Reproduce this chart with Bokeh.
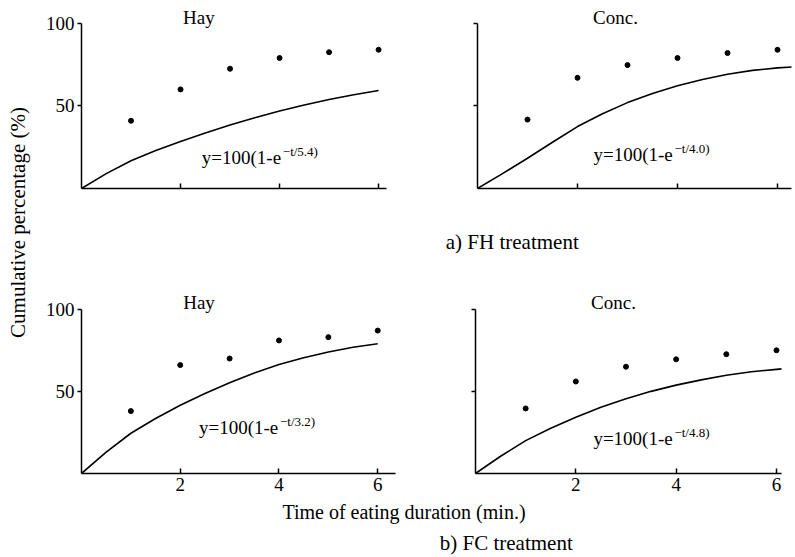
from math import pi
from bokeh.plotting import figure
from bokeh.layouts import row, column
from bokeh.models import Range1d, FixedTicker, Label
from bokeh.embed import file_html
from bokeh.resources import INLINE

FONT = "Liberation Serif"

# ---- data ----
x_obs = [1, 2, 3, 4, 5, 6]
fh_hay_obs = [41, 60, 72.5, 79, 82.5, 84]
fh_conc_obs = [41.7, 67, 74.7, 79, 82, 84]
fc_hay_obs = [38, 66, 70, 81, 83, 87]
fc_conc_obs = [39.6, 56, 65, 69.5, 72.6, 75]

x_fit = [0, 0.5, 1, 1.5, 2, 2.5, 3, 3.5, 4, 4.5, 5, 5.5, 6]
x_fit_ext = [0, 0.5, 1, 1.5, 2, 2.5, 3, 3.5, 4, 4.5, 5, 5.5, 6, 6.3]
fh_hay_fit = [0, 9, 16.8, 23, 28.5, 33.6, 38.4, 42.8, 46.9, 50.6, 53.9, 56.8, 59.3]
fh_conc_fit = [0, 9, 18.3, 28, 37.5, 45.3, 52, 57.5, 62.2, 66, 69.2, 71.5, 73, 73.6]
fc_hay_fit = [0, 13, 24.5, 33.5, 41.5, 48.7, 55.2, 61.2, 66.3, 70.5, 74, 76.8, 79]
fc_conc_fit = [0, 10.5, 20, 27.5, 34.2, 40.3, 45.5, 50, 53.8, 57, 59.8, 61.9, 63.4, 64.2]

x_ticks = [2, 4, 6]
y_ticks = [50, 100]

titles = ["Hay", "Conc.", "Hay", "Conc."]
eq_main = "y=100(1-e"
eq_sups = ["\u2212t/5.4)", "\u2212t/4.0)", "\u2212t/3.2)", "\u2212t/4.8)"]
cap_a = "a)  FH  treatment"
cap_b = "b)  FC  treatment"
x_title = "Time of eating duration  (min.)"
y_title = "Cumulative percentage (%)"

Y_END = 112


def panel(w, h, bl, br, bt, bb, xend, title, tpos, sup, epos, xf, yf, yo,
          ylabels, xlabels):
    p = figure(width=w, height=h, x_range=Range1d(0, xend), y_range=Range1d(0, Y_END),
               output_backend="svg", toolbar_location=None,
               min_border_left=bl, min_border_right=br,
               min_border_top=bt, min_border_bottom=bb)
    p.outline_line_color = None
    p.background_fill_color = "white"
    p.border_fill_color = "white"
    p.xgrid.visible = False
    p.ygrid.visible = False

    xa = p.xaxis[0]
    xa.ticker = FixedTicker(ticks=x_ticks)
    xa.minor_tick_line_color = None
    xa.major_tick_in = 5
    xa.major_tick_out = 0
    xa.axis_line_width = 1.5
    xa.major_tick_line_width = 1.5
    xa.major_label_text_font = FONT
    xa.major_label_text_font_size = "19px"
    xa.major_label_text_color = "black"
    xa.major_label_standoff = 4
    if not xlabels:
        xa.major_label_overrides = {t: "" for t in x_ticks}

    ya = p.yaxis[0]
    ya.ticker = FixedTicker(ticks=y_ticks)
    ya.bounds = (0, 100)
    ya.minor_tick_line_color = None
    ya.major_tick_in = 0
    ya.major_tick_out = 4
    ya.axis_line_width = 1.5
    ya.major_tick_line_width = 1.5
    ya.major_label_text_font = FONT
    ya.major_label_text_font_size = "19px"
    ya.major_label_text_color = "black"
    ya.major_label_standoff = 3
    if not ylabels:
        ya.major_label_overrides = {t: "" for t in y_ticks}

    p.line(xf, yf, line_color="black", line_width=1.6)
    p.scatter(x_obs, yo, size=5, color="black")

    p.add_layout(Label(x=tpos[0], y=tpos[1], text=title, text_font=FONT,
                       text_font_size="19px", text_align="center",
                       text_baseline="middle", text_color="black"))
    p.add_layout(Label(x=epos[0], y=epos[1], text=eq_main, text_font=FONT,
                       text_font_size="19px", text_align="left",
                       text_baseline="middle", text_color="black"))
    p.add_layout(Label(x=epos[0], y=epos[1], x_offset=81, y_offset=6, text=sup,
                       text_font=FONT, text_font_size="13px", text_align="left",
                       text_baseline="middle", text_color="black"))
    return p


def blank(w, h):
    p = figure(width=w, height=h, x_range=Range1d(0, w), y_range=Range1d(0, h),
               output_backend="svg", toolbar_location=None, min_border=0,
               x_axis_location=None, y_axis_location=None)
    p.outline_line_color = None
    p.border_fill_color = "white"
    p.background_fill_color = "white"
    p.xgrid.visible = False
    p.ygrid.visible = False
    return p


tl = panel(386, 215, 38, 42, 1, 27, 6.16, titles[0], (2.37, 103.6), eq_sups[0],
           (2.43, 18.6), x_fit, fh_hay_fit, fh_hay_obs, True, False)
tr = panel(366, 215, 49, 3, 3, 25, 6.28, titles[1], (2.76, 103.6), eq_sups[1],
           (2.32, 20.4), x_fit_ext, fh_conc_fit, fh_conc_obs, False, False)
bl = panel(386, 236, 38, 33, 25, 25, 6.36, titles[2], (2.38, 104), eq_sups[2],
           (2.38, 27.7), x_fit, fc_hay_fit, fc_hay_obs, True, True)
br = panel(366, 236, 47, 13, 27, 25, 6.1, titles[3], (2.75, 104), eq_sups[3],
           (2.35, 21.3), x_fit_ext, fc_conc_fit, fc_conc_obs, False, True)

capA = blank(752, 47)
capA.add_layout(Label(x=475, y=21, text=cap_a, text_font=FONT, text_font_size="21px",
                      text_align="center", text_baseline="middle", text_color="black"))

capB = blank(752, 58)
capB.add_layout(Label(x=364, y=45, text=x_title, text_font=FONT, text_font_size="20px",
                      text_align="center", text_baseline="middle", text_color="black"))
capB.add_layout(Label(x=469, y=14, text=cap_b, text_font=FONT, text_font_size="21px",
                      text_align="center", text_baseline="middle", text_color="black"))

ylab = blank(42, 556)
ylab.add_layout(Label(x=17, y=334, text=y_title, angle=pi / 2, text_font=FONT,
                      text_font_size="21px", text_align="center",
                      text_baseline="middle", text_color="black"))

layout = row(ylab, column(row(tl, tr), capA, row(bl, br), capB))

open("out.html", "w").write(file_html(layout, INLINE))
